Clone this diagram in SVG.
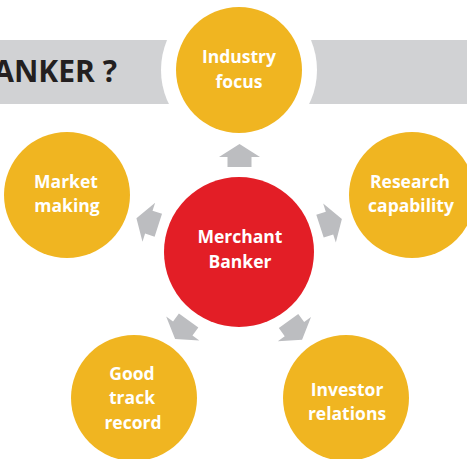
<svg xmlns="http://www.w3.org/2000/svg" width="467" height="459" viewBox="0 0 467 459">
<style>
.sat{fill:#F0B521}
.lbl{font-family:"Open Sans","Liberation Sans",sans-serif;font-weight:700;font-size:17.5px;fill:#FFFFFF;text-anchor:middle}
.arr{fill:#BCBDC0}
</style>
<defs>
<path id="arrow" d="M227.5,167 L227.5,157 L219,157 L239.5,144 L260,157 L251.5,157 L251.5,167 Z"/>
</defs>
<rect width="467" height="459" fill="#FFFFFF"/>
<g id="banner">
<rect x="0" y="40" width="467" height="64" fill="#D1D2D4"/>
<circle cx="239" cy="70" r="78" fill="#FFFFFF"/>
<text x="117" y="82" text-anchor="end" font-family="'Open Sans','Liberation Sans',sans-serif" font-weight="700" font-size="30" fill="#231F20">ANKER ?</text>
</g>
<g id="connectors" class="arr">
<use href="#arrow"/>
<use href="#arrow" transform="rotate(72 239 252)"/>
<use href="#arrow" transform="rotate(144 239 252)"/>
<use href="#arrow" transform="rotate(216 239 252)"/>
<use href="#arrow" transform="rotate(288 239 252)"/>
</g>
<g id="node-center">
<circle cx="239" cy="252" r="75" fill="#E31E26"/>
<text class="lbl" x="240" y="243">Merchant</text>
<text class="lbl" x="240" y="268">Banker</text>
</g>
<g id="node-industry">
<circle class="sat" cx="239" cy="70" r="63"/>
<text class="lbl" x="239" y="63">Industry</text>
<text class="lbl" x="239" y="88">focus</text>
</g>
<g id="node-research">
<circle class="sat" cx="412" cy="195" r="63"/>
<text class="lbl" x="410" y="188">Research</text>
<text class="lbl" x="411" y="212">capability</text>
</g>
<g id="node-investor">
<circle class="sat" cx="346" cy="398" r="63"/>
<text class="lbl" x="347" y="396">Investor</text>
<text class="lbl" x="347" y="420">relations</text>
</g>
<g id="node-track">
<circle class="sat" cx="134" cy="398" r="63"/>
<text class="lbl" x="132" y="380">Good</text>
<text class="lbl" x="132" y="404">track</text>
<text class="lbl" x="133" y="429">record</text>
</g>
<g id="node-market">
<circle class="sat" cx="67" cy="195" r="63"/>
<text class="lbl" x="66" y="188">Market</text>
<text class="lbl" x="67" y="212">making</text>
</g>
</svg>
